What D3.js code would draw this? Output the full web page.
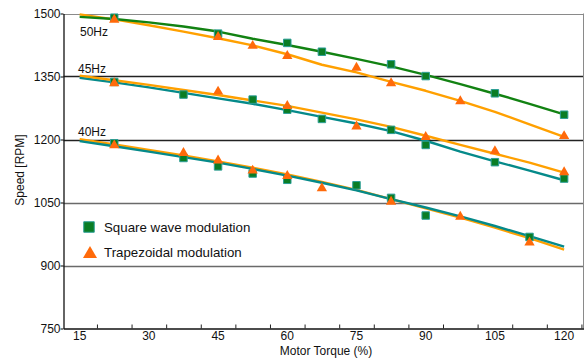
<!DOCTYPE html>
<html>
<head>
<meta charset="utf-8">
<script src="https://cdn.jsdelivr.net/npm/d3@7"></script>
<style>
  body { margin: 0; background: #fff; }
  svg { display: block; font-family: "Liberation Sans", Arial, sans-serif; }
</style>
</head>
<body>
<div id="chart"></div>
<script>
// torque values where the fitted lines are sampled
const torqueSteps = [15, 22.5, 30, 37.5, 45, 52.5, 60, 67.5, 75, 82.5, 90, 97.5, 105, 112.5, 120];

// fitted speed lines (RPM)
const line50Square = [1492, 1487, 1479, 1469, 1457, 1440, 1425, 1409, 1392, 1374, 1354, 1332, 1309, 1285, 1260];
const line50Trap = [1498, 1486, 1472, 1457, 1441, 1424, 1403, 1378, 1360, 1337, 1316, 1292, 1266, 1236, 1206];
const line45Square = [1347, 1336, 1324, 1311, 1298, 1285, 1270, 1254, 1238, 1220, 1197, 1171, 1148, 1126, 1103];
const line45Trap = [1352, 1341, 1330, 1318, 1306, 1293, 1280, 1264, 1248, 1230, 1209, 1187, 1166, 1145, 1121];
const line40Square = [1196, 1184, 1171, 1158, 1145, 1130, 1114, 1097, 1079, 1058, 1038, 1017, 994, 970, 945];
const line40Trap = [1201, 1188, 1175, 1162, 1148, 1133, 1117, 1099, 1080, 1058, 1036, 1014, 990, 965, 938];

// measured points [torque, speed]
const square50 = [[22.5, 1490], [45, 1452], [60, 1430], [67.5, 1409], [82.5, 1379], [90, 1351], [105, 1310], [120, 1259]];
const trap50 = [[22.5, 1485], [45, 1444], [52.5, 1423], [60, 1399], [75, 1371], [82.5, 1334], [97.5, 1291], [120, 1208]];
const square45 = [[22.5, 1337], [37.5, 1307], [52.5, 1295], [60, 1271], [67.5, 1249], [82.5, 1223], [90, 1187], [105, 1146], [120, 1107]];
const trap45 = [[22.5, 1334], [45, 1314], [60, 1280], [75, 1231], [90, 1206], [105, 1172], [120, 1122]];
const square40 = [[22.5, 1191], [37.5, 1156], [45, 1136], [52.5, 1119], [60, 1104], [75, 1091], [82.5, 1061], [90, 1019], [112.5, 968]];
const trap40 = [[22.5, 1186], [37.5, 1168], [45, 1150], [52.5, 1126], [60, 1113], [67.5, 1084], [82.5, 1052], [97.5, 1016], [112.5, 955]];

const xTickLabels = [15, 30, 45, 60, 75, 90, 105, 120];
const xMinorTicks = [18.75, 26.25, 33.75, 41.25, 48.75, 56.25, 63.75, 71.25, 78.75, 86.25, 93.75, 101.25, 108.75, 116.25, 123.75];
const yTickLabels = [750, 900, 1050, 1200, 1350, 1500];
const freqLabels = [["50Hz", 1500], ["45Hz", 1350], ["40Hz", 1200]];
const legendItems = ["Square wave modulation", "Trapezoidal modulation"];

class SpeedTorqueChart {
  constructor(hook) {
    this.hook = hook;
    this.width = 586;
    this.height = 360;
    this.svg = null;
    this.x = null;
    this.y = null;
  }

  createSVG = () => {
    this.svg = d3
      .select(this.hook)
      .append("svg")
      .attr("width", this.width)
      .attr("height", this.height);
  };

  createScales = () => {
    this.x = d3.scaleLinear().domain([11.5, 124.2]).range([63.5, 583.5]);
    this.y = d3.scaleLinear().domain([750, 1500]).range([328.5, 13.5]);
  };

  drawGrid = () => {
    // horizontal lines, the middle two are darker
    this.svg
      .append("g")
      .selectAll("line")
      .data(yTickLabels.slice(1))
      .enter()
      .append("line")
      .attr("x1", this.x.range()[0])
      .attr("x2", this.x.range()[1])
      .attr("y1", (d) => Math.round(this.y(d)) + 0.5)
      .attr("y2", (d) => Math.round(this.y(d)) + 0.5)
      .attr("stroke", (d) => (d === 1350 || d === 1200 ? "#222" : d === 1500 ? "#8a8a8a" : "#6a6a6a"))
      .attr("stroke-width", (d) => (d === 1500 ? 1 : 1.4));

    // right border
    this.svg
      .append("line")
      .attr("x1", this.x.range()[1])
      .attr("x2", this.x.range()[1])
      .attr("y1", this.y(1500))
      .attr("y2", this.y(750))
      .attr("stroke", "#8a8a8a");
  };

  drawAxes = () => {
    const yAxis = this.svg
      .append("g")
      .attr("transform", `translate(${this.x.range()[0]},0)`)
      .call(
        d3.axisLeft(this.y).tickValues(yTickLabels).tickFormat(d3.format("d")).tickSize(3).tickSizeOuter(0)
      );
    yAxis.select(".domain").attr("stroke", "#111").attr("stroke-width", 1.3);
    yAxis.selectAll("text").style("font-size", "12px").attr("fill", "#111").attr("x", -3);

    const xAxis = this.svg
      .append("g")
      .attr("transform", `translate(0,${this.y(750)})`)
      .call(d3.axisBottom(this.x).tickValues(xMinorTicks).tickSize(-4).tickSizeOuter(0).tickFormat(""));
    xAxis.select(".domain").attr("stroke", "#111").attr("stroke-width", 1.3);
    xAxis.selectAll(".tick line").attr("stroke", "#222");

    // x labels sit between the tick marks
    this.svg
      .append("g")
      .selectAll("text")
      .data(xTickLabels)
      .enter()
      .append("text")
      .attr("x", (d) => this.x(d))
      .attr("y", 340)
      .attr("text-anchor", "middle")
      .style("font-size", "12px")
      .attr("fill", "#111")
      .text((d) => d);

    this.svg
      .append("text")
      .attr("x", 326)
      .attr("y", 355)
      .attr("text-anchor", "middle")
      .style("font-size", "12px")
      .attr("fill", "#111")
      .text("Motor Torque (%)");

    this.svg
      .append("text")
      .attr("transform", "translate(24,170)rotate(-90)")
      .attr("text-anchor", "middle")
      .style("font-size", "12px")
      .attr("fill", "#111")
      .text("Speed [RPM]");
  };

  drawLine = (values, color) => {
    const line = d3
      .line()
      .x((d, i) => this.x(torqueSteps[i]))
      .y((d) => this.y(d));
    this.svg
      .append("path")
      .datum(values)
      .attr("d", line)
      .attr("fill", "none")
      .attr("stroke", color)
      .attr("stroke-width", 2.4)
      .attr("stroke-linejoin", "round");
  };

  drawSquares = (points) => {
    this.svg
      .append("g")
      .selectAll("path")
      .data(points)
      .enter()
      .append("path")
      .attr("transform", (d) => `translate(${this.x(d[0])},${this.y(d[1])})`)
      .attr("d", d3.symbol(d3.symbolSquare, 56))
      .attr("fill", "#0a7d24")
      .attr("stroke", "#2b9e96")
      .attr("stroke-width", 1);
  };

  drawTriangles = (points) => {
    this.svg
      .append("g")
      .selectAll("path")
      .data(points)
      .enter()
      .append("path")
      .attr("transform", (d) => `translate(${this.x(d[0])},${this.y(d[1])})`)
      .attr("d", d3.symbol(d3.symbolTriangle, 46))
      .attr("fill", "#ff6a0a");
  };

  drawLegend = () => {
    this.svg
      .append("path")
      .attr("transform", "translate(89,227)")
      .attr("d", d3.symbol(d3.symbolSquare, 110))
      .attr("fill", "#0a7d24")
      .attr("stroke", "#2b9e96");
    this.svg
      .append("path")
      .attr("transform", "translate(90,254)")
      .attr("d", d3.symbol(d3.symbolTriangle, 85))
      .attr("fill", "#ff6a0a");

    this.svg
      .append("g")
      .selectAll("text")
      .data(legendItems)
      .enter()
      .append("text")
      .attr("x", 104)
      .attr("y", (d, i) => 231.5 + i * 25)
      .style("font-size", "13.3px")
      .attr("fill", "#111")
      .text((d) => d);
  };

  init = () => {
    this.createSVG();
    this.createScales();
    this.drawGrid();
    this.drawAxes();

    this.drawLine(line50Trap, "#ffa000");
    this.drawLine(line50Square, "#128212");
    this.drawLine(line45Square, "#058a8a");
    this.drawLine(line45Trap, "#ffa000");
    this.drawLine(line40Trap, "#ffa000");
    this.drawLine(line40Square, "#058a8a");

    this.drawSquares(square50.concat(square45, square40));
    this.drawTriangles(trap50.concat(trap45, trap40));

    // frequency labels above each group
    this.svg
      .append("g")
      .selectAll("text")
      .data(freqLabels)
      .enter()
      .append("text")
      .attr("x", (d, i) => (i === 0 ? 80 : 78))
      .attr("y", (d, i) => (i === 0 ? 36 : this.y(d[1]) - 4))
      .style("font-size", "12px")
      .attr("fill", "#111")
      .text((d) => d[0]);

    this.drawLegend();
  };
}

new SpeedTorqueChart(document.getElementById("chart")).init();
</script>
</body>
</html>
